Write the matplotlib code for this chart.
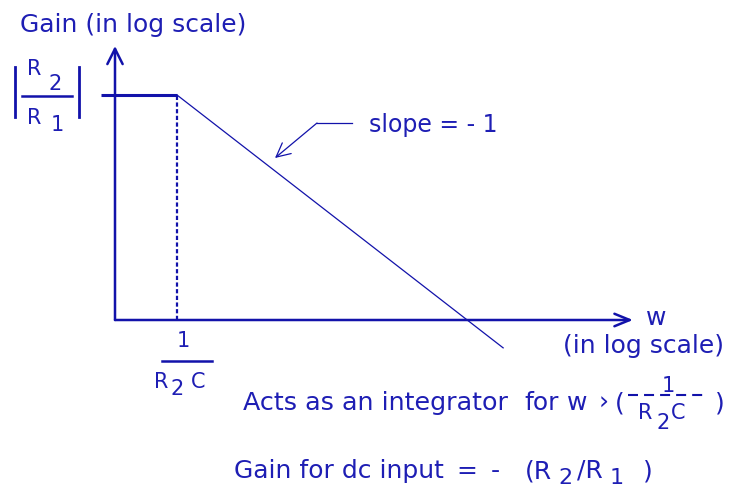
import matplotlib
matplotlib.use('Agg')
import matplotlib.pyplot as plt
from matplotlib.lines import Line2D

# ── Data: idealised Bode magnitude of the practical integrator ─────────────────
w_points    = [0.17, 1.0, 2000.0]     # w, in units of 1/(R2 C)
gain_points = [10.0, 10.0, 0.005]     # |gain|, flat at R2/R1 then slope -1

BLUE = '#1212aa'
TXT = '#1e1eb4'
W, H = 730, 488

fig = plt.figure(figsize=(W / 100, H / 100), dpi=100)
ax = fig.add_axes([0, 0, 1, 1])
ax.set_xscale('log')
ax.set_yscale('log')
# log-log scale: w = 1 sits at x = 177 px, gain 10 at y = 95 px
ax.set_xlim(10 ** (-177 / 98.8), 10 ** ((W - 177) / 98.8))
ax.set_ylim(10 ** (1 - (H - 95) / 76.6), 10 ** (1 + 95 / 76.6))
ax.axis('off')


def fp(x, y):
    """pixel (top-left origin) -> figure fraction"""
    return (x / W, 1 - y / H)


def line(xs, ys, **kw):
    fig.add_artist(Line2D([x / W for x in xs], [1 - y / H for y in ys], **kw))


def arrow(p0, p1, hl, hw, lw):
    ax.annotate('', xy=fp(*p1), xytext=fp(*p0), xycoords='figure fraction',
                textcoords='figure fraction',
                arrowprops=dict(arrowstyle=f'->,head_length={hl},head_width={hw}',
                                color=BLUE, lw=lw, shrinkA=0, shrinkB=0,
                                mutation_scale=10))


def txt(x, y, s, size=15, **kw):
    fig.text(*fp(x, y), s, color=TXT, fontsize=size, va='baseline',
             family='DejaVu Sans', **kw)


# axes origin (pixels)
org = ax.transData.inverted().transform((115, H - 320))
w0, g0 = org

# gain curve
ax.plot(w_points[:2], gain_points[:2], color=BLUE, lw=2.2, solid_capstyle='butt')
ax.plot(w_points[1:], gain_points[1:], color=BLUE, lw=0.9)
ax.plot([w_points[1], w_points[1]], [g0, gain_points[1]], color=BLUE, lw=1.6,
        ls=(0, (1.9, 1.1)))

# axes arrows
arrow((115, 320), (115, 46), 1.1, 0.55, 1.8)
arrow((115, 320), (633, 320), 1.1, 0.45, 1.8)

# slope annotation
line([352, 317], [123, 123], color=BLUE, lw=0.9)
arrow((317, 123), (275, 158), 1.0, 0.5, 0.9)
txt(369, 132, 'slope = - 1', 17)

# axis labels
txt(20, 32, 'Gain (in log scale)', 18)
txt(646, 325, 'w', 18)
txt(563, 353, '(in log scale)', 18)

# |R2 / R1|
line([15, 15], [67, 117], color=BLUE, lw=2)
line([79, 79], [67, 117], color=BLUE, lw=2)
line([22, 72], [96, 96], color=BLUE, lw=1.8)
txt(27, 75, 'R')
txt(49, 90, '2')
txt(27, 124, 'R')
txt(51, 131, '1')

# 1 / (R2 C) under the corner
txt(177, 347, '1')
line([162, 212], [361, 361], color=BLUE, lw=1.8)
txt(154, 388, 'R')
txt(170, 395, '2')
txt(191, 388, 'C')

# integrator note
txt(243, 410, 'Acts as an integrator', 18.3)
txt(524, 410, 'for', 18)
txt(567, 410, 'w', 18)
txt(599, 410, '\u203a', 18)
txt(615, 410, '(', 18)
txt(715, 410, ')', 18)
line([628, 708], [395, 395], color=BLUE, lw=1.5, ls=(0, (4.8, 2.9)))
txt(668, 392, '1', ha='center')
txt(638, 419, 'R')
txt(657, 429, '2')
txt(671, 419, 'C')

# dc gain note
txt(234, 478, 'Gain for dc input', 18)
txt(456, 478, '=', 18)
txt(491, 478, '-', 18)
txt(525, 478, '(R', 18)
txt(558, 484, '2', 16)
txt(577, 478, '/R', 18)
txt(610, 484, '1', 16)
txt(643, 478, ')', 18)

fig.savefig('out.png', dpi=100)
